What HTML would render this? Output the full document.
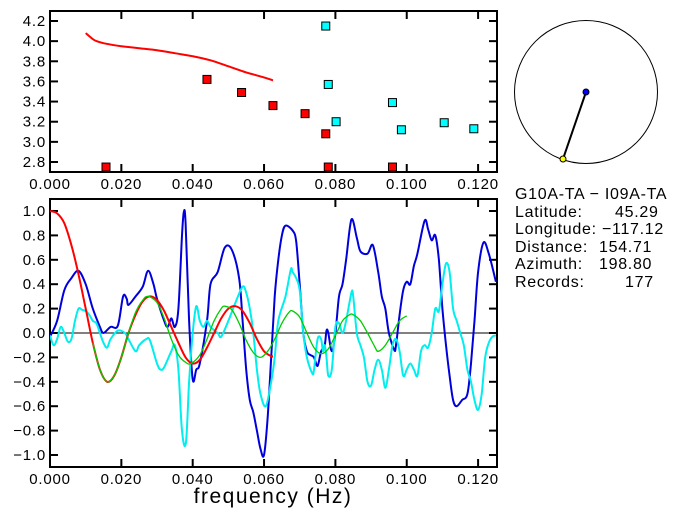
<!DOCTYPE html>
<html><head><meta charset="utf-8"><style>
html,body{margin:0;padding:0;background:#fff;}
svg{display:block;font-family:"Liberation Sans",sans-serif;}
</style></head><body>
<svg id="chart" width="697" height="519" xmlns="http://www.w3.org/2000/svg">
<rect width="697" height="519" fill="#fff"/>
<g id="topg"></g>
<g id="bot"></g>
<g>
<circle cx="586" cy="92" r="71.5" fill="none" stroke="#000" stroke-width="1"/>
<line x1="586" y1="92" x2="563" y2="159" stroke="#000" stroke-width="2"/>
<circle cx="586" cy="92" r="3" fill="#0000ff" stroke="#000" stroke-width="1"/>
<circle cx="563" cy="159" r="3" fill="#ffff00" stroke="#000" stroke-width="1"/>
</g>
<g font-size="16" letter-spacing="0.7" fill="#000">
<text x="515" y="199">G10A-TA  −  I09A-TA</text>
<text x="515" y="217">Latitude:</text><text x="615" y="217">45.29</text>
<text x="515" y="234">Longitude:</text><text x="602" y="234">−117.12</text>
<text x="515" y="252">Distance:</text><text x="599" y="252">154.71</text>
<text x="515" y="269">Azimuth:</text><text x="599" y="269">198.80</text>
<text x="515" y="287">Records:</text><text x="625" y="287">177</text>
</g>
</svg>
<script>
const xTicks=[0,0.02,0.04,0.06,0.08,0.10,0.12];
const xTickLabels=["0.000","0.020","0.040","0.060","0.080","0.100","0.120"];
const topYTicks=[2.8,3.0,3.2,3.4,3.6,3.8,4.0,4.2];
const topYTickLabels=["2.8","3.0","3.2","3.4","3.6","3.8","4.0","4.2"];
const botYTicks=[-1,-0.8,-0.6,-0.4,-0.2,0,0.2,0.4,0.6,0.8,1.0];
const botYTickLabels=["−1.0","−0.8","−0.6","−0.4","−0.2","0.0","0.2","0.4","0.6","0.8","1.0"];
const dispF=[0.010,0.011,0.012,0.013,0.015,0.018,0.020,0.025,0.030,0.035,0.040,0.045,0.050,0.055,0.060,0.0625];
const dispV=[4.08,4.05,4.02,4.0,3.98,3.96,3.95,3.93,3.91,3.88,3.85,3.81,3.75,3.69,3.64,3.61];
const redPtF=[0.0157,0.0440,0.0537,0.0625,0.0715,0.0773,0.0780,0.0960];
const redPtV=[2.75,3.62,3.49,3.36,3.28,3.08,2.75,2.75];
const cyanPtF=[0.0773,0.0780,0.0802,0.0960,0.0985,0.1105,0.1188];
const cyanPtV=[4.15,3.57,3.20,3.39,3.12,3.19,3.13];
const blueF=[0,0.002,0.004,0.006,0.008,0.010,0.012,0.014,0.015,0.017,0.019,0.0205,0.0215,0.022,0.024,0.026,0.0275,0.029,0.030,0.032,0.033,0.034,0.035,0.036,0.037,0.0375,0.038,0.039,0.040,0.041,0.042,0.044,0.045,0.047,0.049,0.051,0.053,0.054,0.055,0.056,0.057,0.058,0.059,0.060,0.061,0.062,0.063,0.064,0.065,0.066,0.068,0.069,0.070,0.071,0.072,0.073,0.074,0.075,0.076,0.077,0.0775,0.078,0.079,0.080,0.081,0.082,0.083,0.0845,0.086,0.087,0.089,0.0905,0.092,0.093,0.094,0.095,0.0965,0.097,0.098,0.099,0.100,0.101,0.102,0.103,0.105,0.106,0.107,0.108,0.109,0.110,0.111,0.112,0.113,0.114,0.1155,0.117,0.118,0.119,0.120,0.1215,0.123,0.125];
const blueV=[-0.03,0.1,0.35,0.45,0.51,0.4,0.2,0.05,0.0,0.05,0.06,0.3,0.28,0.23,0.3,0.38,0.51,0.4,0.28,0.1,0.05,0.12,0.05,0.2,0.8,0.99,0.9,0.1,-0.38,-0.3,-0.25,0.1,0.4,0.5,0.7,0.68,0.45,0.1,-0.3,-0.55,-0.65,-0.8,-0.95,-1.0,-0.7,-0.2,0.3,0.6,0.8,0.88,0.84,0.75,0.4,0.0,-0.15,-0.18,-0.2,-0.27,-0.15,-0.1,0.02,0.0,-0.15,0.0,0.3,0.4,0.6,0.93,0.78,0.67,0.65,0.72,0.5,0.3,0.2,0.0,-0.14,-0.1,0.15,0.35,0.42,0.4,0.55,0.65,0.92,0.85,0.76,0.8,0.6,0.2,-0.1,-0.35,-0.55,-0.6,-0.55,-0.5,-0.25,0.1,0.5,0.74,0.65,0.42];
const cyanF=[0,0.001,0.002,0.003,0.004,0.005,0.006,0.007,0.008,0.009,0.010,0.011,0.012,0.013,0.014,0.015,0.016,0.017,0.019,0.021,0.022,0.024,0.025,0.027,0.028,0.030,0.031,0.032,0.034,0.035,0.036,0.037,0.0381,0.039,0.040,0.041,0.042,0.043,0.044,0.045,0.047,0.048,0.050,0.052,0.054,0.055,0.056,0.057,0.058,0.059,0.0605,0.062,0.063,0.064,0.066,0.0675,0.068,0.069,0.070,0.071,0.072,0.0735,0.074,0.075,0.076,0.0765,0.077,0.0775,0.078,0.079,0.080,0.081,0.082,0.083,0.0845,0.085,0.086,0.087,0.088,0.089,0.090,0.091,0.092,0.093,0.094,0.095,0.096,0.097,0.098,0.099,0.100,0.101,0.102,0.103,0.104,0.105,0.106,0.107,0.108,0.109,0.110,0.111,0.112,0.113,0.114,0.115,0.116,0.117,0.118,0.119,0.120,0.121,0.122,0.123,0.124,0.125];
const cyanV=[-0.02,-0.1,-0.05,0.05,0.0,-0.07,-0.05,0.1,0.2,0.19,0.18,0.15,0.1,0.08,0.0,-0.08,-0.12,-0.05,0.02,0.0,-0.05,-0.15,-0.1,-0.05,-0.06,-0.25,-0.3,-0.28,-0.15,-0.1,-0.3,-0.8,-0.9,-0.4,0.0,0.22,0.1,0.05,0.1,0.05,0.0,-0.03,0.1,0.25,0.38,0.33,0.2,0.0,-0.3,-0.5,-0.6,-0.4,-0.2,0.1,0.3,0.52,0.5,0.45,0.35,0.0,-0.2,-0.33,-0.3,-0.05,-0.05,-0.15,-0.1,-0.2,-0.35,-0.3,0.05,0.08,0.0,0.1,0.33,0.3,0.0,-0.1,-0.2,-0.4,-0.43,-0.3,-0.22,-0.3,-0.45,-0.3,-0.1,-0.05,-0.15,-0.35,-0.3,-0.25,-0.3,-0.35,-0.15,-0.1,-0.12,0.0,0.2,0.18,0.4,0.57,0.5,0.2,0.1,0.0,-0.1,-0.3,-0.4,-0.55,-0.63,-0.5,-0.2,-0.08,-0.03,-0.02];
const redF=[0,0.002,0.004,0.006,0.008,0.010,0.012,0.014,0.016,0.018,0.020,0.022,0.024,0.026,0.028,0.030,0.032,0.034,0.036,0.038,0.040,0.042,0.044,0.046,0.048,0.050,0.052,0.054,0.056,0.058,0.060,0.062,0.0625];
const redV=[1,0.98,0.9,0.72,0.48,0.2,-0.08,-0.3,-0.4,-0.35,-0.2,0.0,0.15,0.26,0.3,0.27,0.18,0.05,-0.08,-0.2,-0.25,-0.22,-0.12,0.0,0.12,0.2,0.22,0.18,0.08,-0.05,-0.15,-0.19,-0.19];
const greenF=[0.012,0.014,0.016,0.018,0.020,0.022,0.024,0.026,0.0275,0.030,0.032,0.034,0.036,0.038,0.0395,0.042,0.044,0.046,0.048,0.049,0.051,0.053,0.055,0.057,0.059,0.061,0.063,0.065,0.067,0.068,0.070,0.072,0.074,0.076,0.078,0.080,0.082,0.084,0.085,0.087,0.089,0.091,0.092,0.094,0.096,0.098,0.100];
const greenV=[-0.08,-0.3,-0.4,-0.35,-0.2,0.0,0.17,0.27,0.3,0.25,0.12,-0.05,-0.18,-0.24,-0.25,-0.18,-0.05,0.1,0.2,0.22,0.19,0.08,-0.06,-0.16,-0.2,-0.15,-0.05,0.08,0.17,0.18,0.13,0.0,-0.12,-0.17,-0.13,-0.02,0.1,0.15,0.15,0.1,0.0,-0.11,-0.15,-0.1,0.0,0.1,0.14];

const NS="http://www.w3.org/2000/svg";
const L=50,R=497,XMAX=0.1253;
const xs=f=>L+(f/XMAX)*(R-L);
const topT=11,topB=172, tyScale=v=>162-(v-2.8)/1.4*141;
const botT=199,botB=467, byScale=v=>333-v*122;
function mk(p,tag,at){const e=document.createElementNS(NS,tag);for(const k in at)e.setAttribute(k,at[k]);p.appendChild(e);return e;}
function axes(g,T,B,yT,yL,ys,pre){
  const f=mk(g,'rect',{x:L,y:T,width:R-L,height:B-T,fill:'none',stroke:'#000','stroke-width':2});
  
  
  xTicks.forEach((t,i)=>{const x=xs(t);
    const a=mk(g,'line',{x1:x,y1:T,x2:x,y2:T+8,stroke:'#000','stroke-width':2});
    
    
    const b=mk(g,'line',{x1:x,y1:B,x2:x,y2:B-8,stroke:'#000','stroke-width':2});
    
    
    const tx=mk(g,'text',{x:x,y:B+17,'text-anchor':'middle','font-size':15,'letter-spacing':0.8});
    tx.textContent=xTickLabels[i];
    
    
  });
  yT.forEach((t,i)=>{const y=ys(t);
    const a=mk(g,'line',{x1:L,y1:y,x2:L+8,y2:y,stroke:'#000','stroke-width':2});
    
    
    const b=mk(g,'line',{x1:R,y1:y,x2:R-8,y2:y,stroke:'#000','stroke-width':2});
    
    
    const tx=mk(g,'text',{x:46,y:y+5,'text-anchor':'end','font-size':15,'letter-spacing':0.8});
    tx.textContent=yL[i];
    
    
  });
}
function line(g,F,V,ys,col,w,name){
  const P=F.map((f,i)=>[xs(f),ys(V[i])]);
  let d='M'+P[0][0].toFixed(1)+','+P[0][1].toFixed(1);
  for(let i=0;i<P.length-1;i++){
    const p0=P[Math.max(0,i-1)],p1=P[i],p2=P[i+1],p3=P[Math.min(P.length-1,i+2)];
    const c1=[p1[0]+(p2[0]-p0[0])/6,p1[1]+(p2[1]-p0[1])/6];
    const c2=[p2[0]-(p3[0]-p1[0])/6,p2[1]-(p3[1]-p1[1])/6];
    d+=' C'+c1.map(v=>v.toFixed(1)).join(',')+' '+c2.map(v=>v.toFixed(1)).join(',')+' '+p2[0].toFixed(1)+','+p2[1].toFixed(1);
  }
  const p=mk(g,'path',{d:d,fill:'none',stroke:col,'stroke-width':w,'stroke-linejoin':'round'});
  
  
}
function squares(g,F,V,col,name){
  F.forEach((f,i)=>{
    const s=mk(g,'rect',{x:xs(f)-4,y:tyScale(V[i])-4,width:8,height:8,fill:col,stroke:'#000','stroke-width':1});
    
    
  });
}
const topG=document.getElementById('topg');
axes(topG,topT,topB,topYTicks,topYTickLabels,tyScale,'top');
line(topG,dispF,dispV,tyScale,'#ff0000',2,'dispersion-curve');
squares(topG,redPtF,redPtV,'#ff0000','red-point');
squares(topG,cyanPtF,cyanPtV,'#00ffff','cyan-point');

const botG=document.getElementById('bot');
const cp=mk(botG,'clipPath',{id:'bc'});mk(cp,'rect',{x:L,y:botT,width:R-L,height:botB-botT});
axes(botG,botT,botB,botYTicks,botYTickLabels,byScale,'bottom');
const z=mk(botG,'line',{x1:L,y1:byScale(0),x2:R,y2:byScale(0),stroke:'#000','stroke-width':1});


const cg=mk(botG,'g',{'clip-path':'url(#bc)'});
line(cg,blueF,blueV,byScale,'#0000dd',2,'blue-series');
line(cg,cyanF,cyanV,byScale,'#00eeee',2,'cyan-series');
line(cg,redF,redV,byScale,'#ff0000',2,'red-series');
line(cg,greenF,greenV,byScale,'#00cc00',1.3,'green-series');
const xl=mk(botG,'text',{x:273,y:503,'text-anchor':'middle','font-size':21,'letter-spacing':1.5});
xl.textContent='frequency  (Hz)';


</script>
</body></html>
